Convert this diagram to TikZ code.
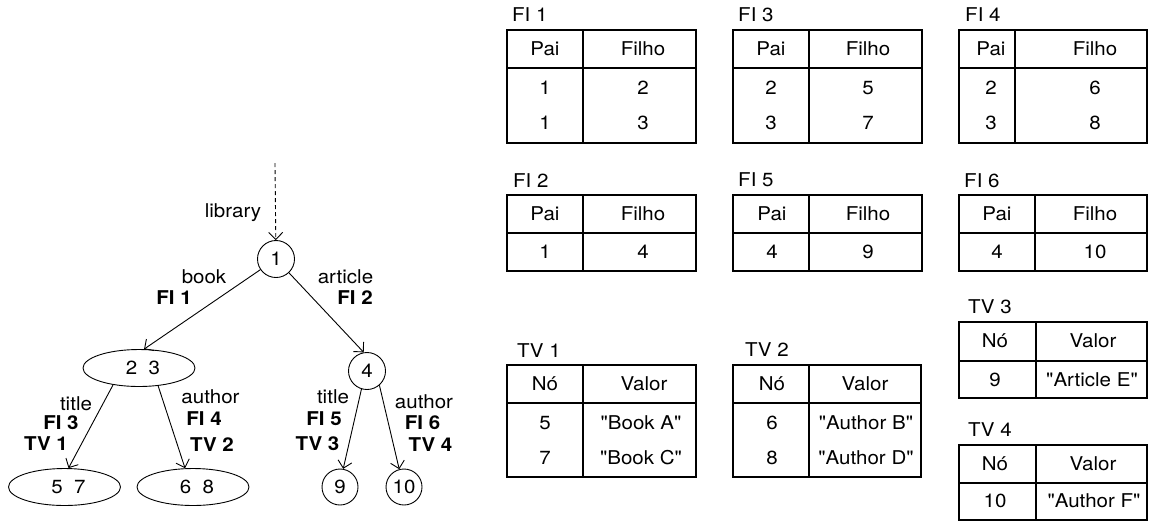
\documentclass[tikz,border=0pt]{standalone}
\usepackage{fontspec}
\setmainfont{TeX Gyre Heros}[FakeStretch=1.08,Ligatures=TeXOff]
\usetikzlibrary{arrows.meta,shapes.geometric}
\newcommand{\tabbox}[6]{%
  \draw[gridline] (#1,#2) rectangle (#4,#6);
  \draw[gridline] (#3,#2) -- (#3,#6);
  \draw[gridline] (#1,#5) -- (#4,#5);}
\tikzset{
  txt/.style={inner sep=0pt,font=\fontsize{19}{21}\selectfont},
  bl/.style={inner sep=0pt,font=\fontsize{19}{21}\selectfont\bfseries},
  ttl/.style={txt,anchor=west},
  tn/.style={draw,circle,line width=0.9pt,minimum size=37pt,inner sep=0pt,font=\fontsize{19}{21}\selectfont},
  te/.style={draw,ellipse,line width=0.9pt,minimum width=112pt,minimum height=37pt,inner sep=0pt,font=\fontsize{19}{21}\selectfont},
  edge/.style={line width=0.9pt,-{Straight Barb[length=7pt,width=14pt]}},
  gridline/.style={line width=1.1pt}
}
\begin{document}
\begin{tikzpicture}[x=1pt,y=-1pt]
\useasboundingbox (0,0) rectangle (1150,523);
% ---------- tree ----------
\coordinate (top) at (275,163);
\node[tn] (n1) at (276,259) {1};
\node[te] (n23) at (139,368) {\hspace{8pt}2~~3};
\node[tn] (n4) at (367,371) {4};
\node[te] (n57) at (64.5,487) {\hspace{8pt}5~~7};
\node[te] (n68) at (193,487) {\hspace{8pt}6~~8};
\node[tn,minimum size=36pt] (n9) at (340,487) {9};
\node[tn,minimum size=36pt] (n10) at (404,487) {10};

\draw[edge,dash pattern=on 4pt off 3pt] (top) -- (n1);
\draw[edge] (n1) -- (n23.75);
\draw[edge] (n1) -- (n4.100);
\draw[edge] (n23.213) -- (n57.78);
\draw[edge] (n23.317) -- (n68.113);
\draw[edge] (n4.253) -- (n9.80);
\draw[edge] (n4.311) -- (n10.105);

\node[txt] (llib) at (233,213) {library};
\node[txt] (lbook) at (204,277) {book};
\node[bl] (lfi1) at (174,298) {FI 1};
\node[txt] (lart) at (345.5,277) {article};
\node[bl] (lfi2) at (355,298) {FI 2};
\node[txt] (ltit1) at (76,404) {title};
\node[bl] (lfi3) at (61,423) {FI 3};
\node[bl] (ltv1) at (46,444) {TV 1};
\node[txt] (laut1) at (210.5,397) {author};
\node[bl] (lfi4) at (204,419) {FI 4};
\node[bl] (ltv2) at (212,445) {TV 2};
\node[txt] (ltit2) at (333,397) {title};
\node[bl] (lfi5) at (324,419) {FI 5};
\node[bl] (ltv3) at (317.5,444) {TV 3};
\node[txt] (laut2) at (424,402) {author};
\node[bl] (lfi6) at (422.5,423) {FI 6};
\node[bl] (ltv4) at (430.5,445) {TV 4};

% ---------- FI 1 ----------
\node[ttl] (hfi1) at (512,15) {FI 1};
\tabbox{507}{30}{583}{696}{68}{143}
\node[txt] (a1) at (545,49) {Pai};
\node[txt] (a2) at (643,49) {Filho};
\node[txt] (a3) at (545,88) {1};
\node[txt] (a4) at (643,88) {2};
\node[txt] (a5) at (545,123) {1};
\node[txt] (a6) at (643,123) {3};
% ---------- FI 3 ----------
\node[ttl] (hfi3) at (738,15) {FI 3};
\tabbox{733}{30}{809}{922}{68}{143}
\node[txt] (b1) at (771,49) {Pai};
\node[txt] (b2) at (868,49) {Filho};
\node[txt] (b3) at (771,88) {2};
\node[txt] (b4) at (868,88) {5};
\node[txt] (b5) at (771,123) {3};
\node[txt] (b6) at (868,123) {7};
% ---------- FI 4 ----------
\node[ttl] (hfi4) at (965,15) {FI 4};
\tabbox{959}{30}{1015}{1147}{68}{143}
\node[txt] (c1) at (991,49) {Pai};
\node[txt] (c2) at (1095,49) {Filho};
\node[txt] (c3) at (991,88) {2};
\node[txt] (c4) at (1095,88) {6};
\node[txt] (c5) at (991,123) {3};
\node[txt] (c6) at (1095,123) {8};
% ---------- FI 2 ----------
\node[ttl] (hfi2) at (513,181) {FI 2};
\tabbox{507}{195}{583}{696}{233}{271}
\node[txt] (d1) at (545,214) {Pai};
\node[txt] (d2) at (643,214) {Filho};
\node[txt] (d3) at (545,252) {1};
\node[txt] (d4) at (643,252) {4};
% ---------- FI 5 ----------
\node[ttl] (hfi5) at (738,180) {FI 5};
\tabbox{733}{195}{809}{922}{233}{271}
\node[txt] (e1) at (772,214) {Pai};
\node[txt] (e2) at (868,214) {Filho};
\node[txt] (e3) at (772,252) {4};
\node[txt] (e4) at (868,252) {9};
% ---------- FI 6 ----------
\node[ttl] (hfi6) at (964,181) {FI 6};
\tabbox{959}{195}{1035}{1147}{233}{271}
\node[txt] (f1) at (997,214) {Pai};
\node[txt] (f2) at (1095,214) {Filho};
\node[txt] (f3) at (997,252) {4};
\node[txt] (f4) at (1095,252) {10};
% ---------- TV 1 ----------
\node[ttl] (htv1) at (517,351) {TV 1};
\tabbox{507}{365}{583}{696}{403}{477}
\node[txt] (g1) at (545,384) {Nó};
\node[txt] (g2) at (644,384) {Valor};
\node[txt] (g3) at (545,423) {5};
\node[txt] (g4) at (641,423) {"Book A"};
\node[txt] (g5) at (545,458) {7};
\node[txt] (g6) at (641,458) {"Book C"};
% ---------- TV 2 ----------
\node[ttl] (htv2) at (745,350) {TV 2};
\tabbox{733}{365}{809}{921}{403}{477}
\node[txt] (h1) at (772,384) {Nó};
\node[txt] (h2) at (865,384) {Valor};
\node[txt] (h3) at (772,423) {6};
\node[txt] (h4) at (866,423) {"Author B"};
\node[txt] (h5) at (772,458) {8};
\node[txt] (h6) at (866,458) {"Author D"};
% ---------- TV 3 ----------
\node[ttl] (htv3) at (968,307) {TV 3};
\tabbox{959}{322}{1036}{1147}{361}{398}
\node[txt] (i1) at (995,341) {Nó};
\node[txt] (i2) at (1093,341) {Valor};
\node[txt] (i3) at (995,380) {9};
\node[txt] (i4) at (1092,380) {"Article E"};
% ---------- TV 4 ----------
\node[ttl] (htv4) at (968,430) {TV 4};
\tabbox{959}{445}{1036}{1147}{483}{520}
\node[txt] (j1) at (995,464) {Nó};
\node[txt] (j2) at (1093,464) {Valor};
\node[txt] (j3) at (995,501) {10};
\node[txt] (j4) at (1094,501) {"Author F"};
\end{tikzpicture}
\end{document}
